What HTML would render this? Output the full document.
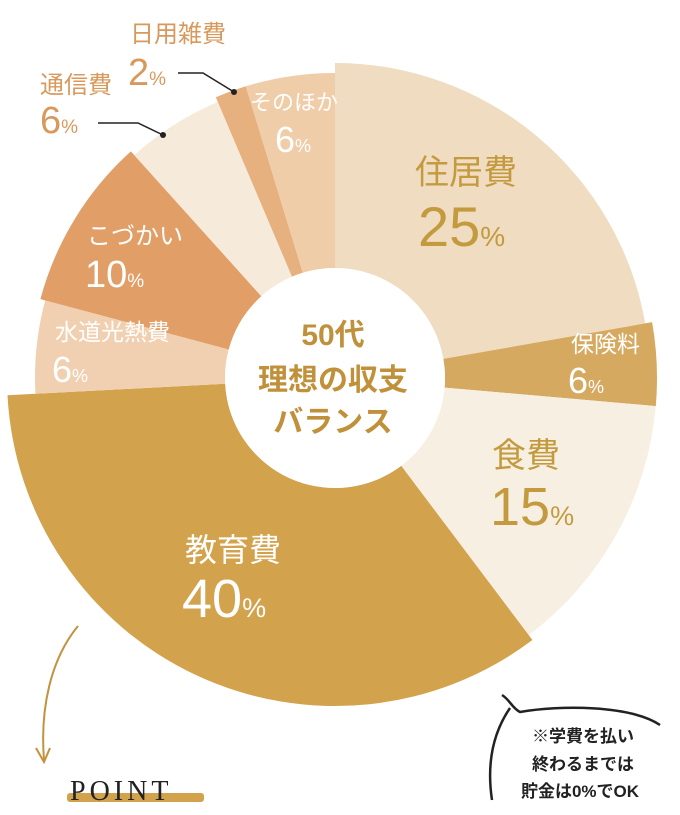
<!DOCTYPE html>
<html><head><meta charset="utf-8"><style>
html,body{margin:0;padding:0;background:#fff;width:680px;height:815px;overflow:hidden}
svg{display:block}
text{font-family:"Liberation Sans","Noto Sans CJK JP",sans-serif}
</style></head><body>
<svg width="680" height="815" viewBox="0 0 680 815" xmlns="http://www.w3.org/2000/svg">
<!-- slices -->
<path d="M335,63 A315,315 0 0 1 645.2,323.3 L443.3,358.9 A110,110 0 0 0 335,268 Z" fill="#f0dcc0"/>
<path d="M652.1,322.1 A322,322 0 0 1 655.8,406.1 L444.6,387.6 A110,110 0 0 0 443.3,358.9 Z" fill="#d6a961"/>
<path d="M655.8,406.1 A322,322 0 0 1 528.8,635.2 L401.2,465.8 A110,110 0 0 0 444.6,387.6 Z" fill="#f7f0e2"/>
<path d="M532.4,640 A328,328 0 0 1 7.5,395.2 L225.2,383.8 A110,110 0 0 0 401.2,465.8 Z" fill="#d3a24c"/>
<path d="M35.4,393.7 A300,300 0 0 1 45.2,300.4 L228.8,349.5 A110,110 0 0 0 225.2,383.8 Z" fill="#f0d0b0"/>
<path d="M40.4,299.1 A305,305 0 0 1 130.9,151.4 L261.4,296.3 A110,110 0 0 0 228.8,349.5 Z" fill="#e19e66"/>
<path d="M134.3,155.1 A300,300 0 0 1 217.8,101.9 L292,276.7 A110,110 0 0 0 261.4,296.3 Z" fill="#f6eadb"/>
<path d="M215.8,97.2 A305,305 0 0 1 245.8,86.3 L302.8,272.8 A110,110 0 0 0 292,276.7 Z" fill="#e6b07f"/>
<path d="M245.8,86.3 A305,305 0 0 1 335,73 L335,268 A110,110 0 0 0 302.8,272.8 Z" fill="#f0cda9"/>
<circle cx="335" cy="378" r="110" fill="#fff"/>
<!-- center -->
<g fill="#c0913a" font-weight="bold" text-anchor="middle">
<text x="333" y="345" font-size="30">50代</text>
<text x="333" y="390" font-size="30">理想の収支</text>
<text x="333" y="432" font-size="30">バランス</text>
</g>
<!-- labels -->
<g fill="#c49a3e">
<text x="415" y="184" font-size="34">住居費</text>
<text x="418" y="246" font-size="56">25<tspan font-size="28">%</tspan></text>
<text x="492" y="467" font-size="34">食費</text>
<text x="490" y="525" font-size="54">15<tspan font-size="27">%</tspan></text>
</g>
<g fill="#fff">
<text x="571" y="352" font-size="23">保険料</text>
<text x="568" y="393" font-size="36">6<tspan font-size="18">%</tspan></text>
<text x="185" y="561" font-size="32">教育費</text>
<text x="182" y="617" font-size="54">40<tspan font-size="27">%</tspan></text>
<text x="55" y="340" font-size="23">水道光熱費</text>
<text x="52" y="382" font-size="36">6<tspan font-size="18">%</tspan></text>
<text x="87" y="244" font-size="24">こづかい</text>
<text x="85" y="287" font-size="38">10<tspan font-size="19">%</tspan></text>
<text x="250" y="110" font-size="22">そのほか</text>
<text x="275" y="152" font-size="36">6<tspan font-size="18">%</tspan></text>
</g>
<g fill="#d7995c">
<text x="130" y="42" font-size="24">日用雑費</text>
<text x="128" y="85" font-size="38">2<tspan font-size="19">%</tspan></text>
<text x="40" y="93" font-size="24">通信費</text>
<text x="40" y="133" font-size="38">6<tspan font-size="19">%</tspan></text>
</g>
<g stroke="#222" stroke-width="1.5" fill="none">
<polyline points="178,73 203,73 234,92"/>
<polyline points="98,123 138,123 163,135"/>
</g>
<circle cx="234" cy="92" r="3" fill="#222"/>
<circle cx="163" cy="135" r="3" fill="#222"/>
<!-- arrow -->
<path d="M78,626 C50,660 40,710 44,760" stroke="#c4913d" stroke-width="2" fill="none"/>
<path d="M36,748 L44,762 L50,748" stroke="#c4913d" stroke-width="2" fill="none"/>
<!-- POINT -->
<rect x="67" y="793" width="137" height="9" rx="3" fill="#d3a24c"/>
<text x="70" y="800" font-family="Liberation Serif,serif" font-size="28" fill="#222" letter-spacing="4" style="font-family:'Liberation Serif',serif">POINT</text>
<!-- bubble -->
<path d="M502,695 C510,700 512,708 520,712 C560,705 630,705 660,725 M510,708 C495,730 486,760 492,800" stroke="#222" stroke-width="2.5" fill="none"/>
<g fill="#222" font-weight="bold" text-anchor="middle" font-size="17">
<text x="583" y="742">※学費を払い</text>
<text x="583" y="770">終わるまでは</text>
<text x="580" y="797">貯金は0%でOK</text>
</g>
</svg>
</body></html>
